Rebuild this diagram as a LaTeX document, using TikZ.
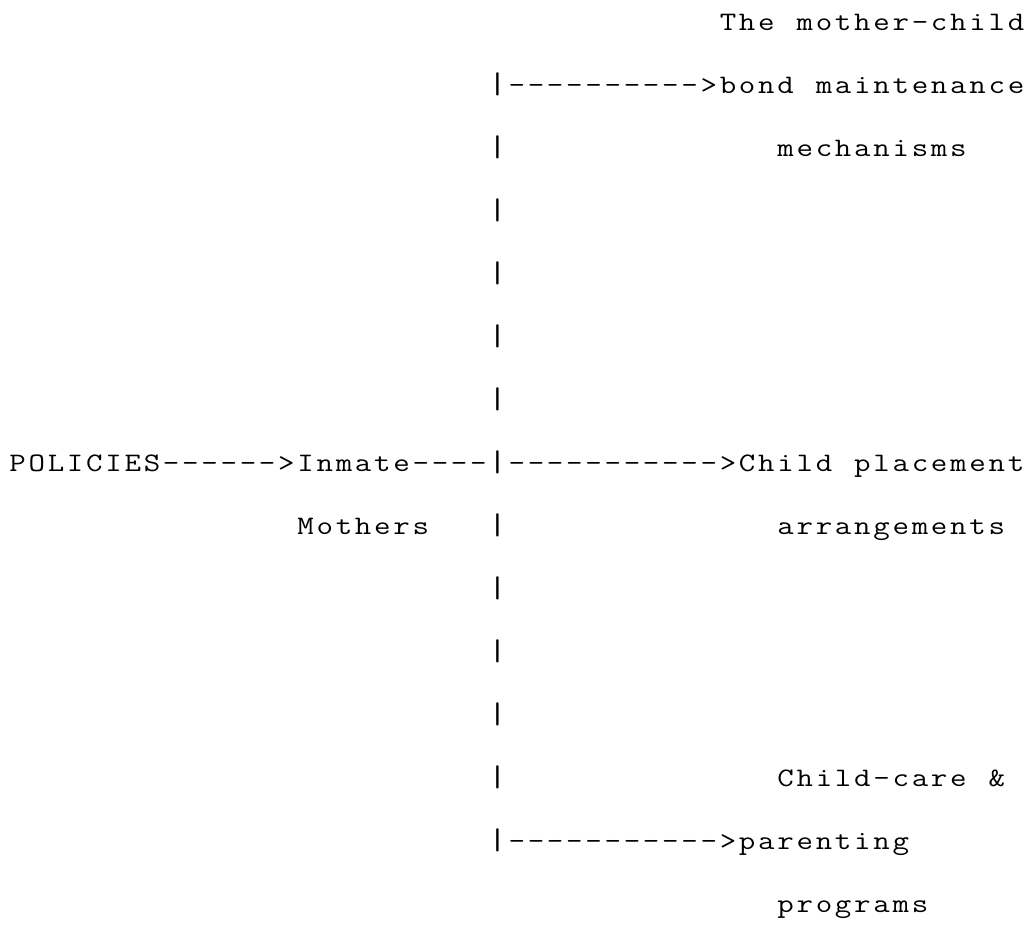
\documentclass[tikz,border=0pt]{standalone}
\usepackage{graphicx}
\def\glend{\relax}
\def\gl#1{\glloop#1\glend}
\def\glloop#1{\ifx#1\glend\else\makebox[14.4pt][c]{\scalebox{1.2}[1]{#1}}\expandafter\glloop\fi}
\newcommand\pipechar{\makebox[14.4pt][c]{\scalebox{1.4}[1.12]{|}}}
\tikzset{
  tt/.style={font=\ttfamily\fontsize{20}{24}\selectfont, anchor=base west, inner sep=0pt, outer sep=0pt},
}
\begin{document}
\begin{tikzpicture}[x=0.75pt,y=-0.75pt]
\useasboundingbox (0,0) rectangle (1032,940);
% line 0
\node[tt] (l0) at ({8+19.2*37},{30+63*0}) {\gl{The~mother-child}};
% line 1
\node[tt] (p1) at ({8+19.2*25},{30+63*1}) {\pipechar};
\node[tt] (a1) at ({8+19.2*26},{30+63*1}) {\gl{---------->}};
\node[tt] (l1) at ({8+19.2*37},{30+63*1}) {\gl{bond~maintenance}};
% line 2
\node[tt] (p2) at ({8+19.2*25},{30+63*2}) {\pipechar};
\node[tt] (l2) at ({8+19.2*40},{30+63*2}) {\gl{mechanisms}};
% lines 3-6
\node[tt] (p3) at ({8+19.2*25},{30+63*3}) {\pipechar};
\node[tt] (p4) at ({8+19.2*25},{30+63*4}) {\pipechar};
\node[tt] (p5) at ({8+19.2*25},{30+63*5}) {\pipechar};
\node[tt] (p6) at ({8+19.2*25},{30+63*6}) {\pipechar};
% line 7
\node[tt] (pol) at ({8+19.2*0},{30+63*7}) {\gl{POLICIES}};
\node[tt] (a7a) at ({8+19.2*8},{30+63*7}) {\gl{------>}};
\node[tt] (inm) at ({8+19.2*15},{30+63*7}) {\gl{Inmate}};
\node[tt] (a7b) at ({8+19.2*21},{30+63*7}) {\gl{----}};
\node[tt] (p7) at ({8+19.2*25},{30+63*7}) {\pipechar};
\node[tt] (a7c) at ({8+19.2*26},{30+63*7}) {\gl{----------->}};
\node[tt] (l7) at ({8+19.2*38},{30+63*7}) {\gl{Child~placement}};
% line 8
\node[tt] (mot) at ({8+19.2*15},{30+63*8}) {\gl{Mothers}};
\node[tt] (p8) at ({8+19.2*25},{30+63*8}) {\pipechar};
\node[tt] (l8) at ({8+19.2*40},{30+63*8}) {\gl{arrangements}};
% lines 9-11
\node[tt] (p9) at ({8+19.2*25},{30+63*9}) {\pipechar};
\node[tt] (p10) at ({8+19.2*25},{30+63*10}) {\pipechar};
\node[tt] (p11) at ({8+19.2*25},{30+63*11}) {\pipechar};
% line 12
\node[tt] (p12) at ({8+19.2*25},{30+63*12}) {\pipechar};
\node[tt] (l12) at ({8+19.2*40},{30+63*12}) {\gl{Child-care~\&}};
% line 13
\node[tt] (p13) at ({8+19.2*25},{30+63*13}) {\pipechar};
\node[tt] (a13) at ({8+19.2*26},{30+63*13}) {\gl{----------->}};
\node[tt] (l13) at ({8+19.2*38},{30+63*13}) {\gl{parenting}};
% line 14
\node[tt] (l14) at ({8+19.2*40},{30+63*14}) {\gl{programs}};
\end{tikzpicture}
\end{document}
